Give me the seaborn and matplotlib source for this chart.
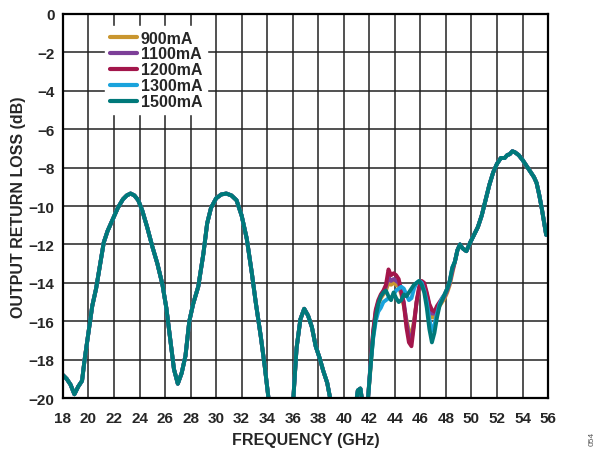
import numpy as np
import pandas as pd
import matplotlib
matplotlib.use("Agg")
import matplotlib.pyplot as plt
import seaborn as sns

# 18 - 41.7 GHz: all currents overlap
freq_low = [18.0, 18.3, 18.6, 18.9, 19.2, 19.5, 19.7, 20.0, 20.3, 20.6, 20.9, 21.2, 21.5,
            21.9, 22.3, 22.7, 23.0, 23.3, 23.6, 23.9, 24.2, 24.6, 25.0, 25.4, 25.8, 26.1,
            26.4, 26.7, 27.0, 27.3, 27.6, 27.9, 28.2, 28.6, 29.0, 29.3, 29.6, 30.0, 30.4,
            30.8, 31.2, 31.6, 32.0, 32.4, 32.8, 33.1, 33.3, 33.5, 33.8, 34.1, 34.5, 35.0,
            35.6, 36.05, 36.3, 36.6, 36.9, 37.2, 37.5, 37.8, 38.1, 38.4, 38.7, 38.9, 39.2,
            40.0, 40.8, 41.1, 41.3, 41.45, 41.7]
rl_low = [-18.8, -19.0, -19.3, -19.8, -19.4, -19.1, -18.0, -16.6, -15.2, -14.3, -13.1, -11.9,
          -11.3, -10.7, -10.1, -9.65, -9.45, -9.35, -9.45, -9.7, -10.2, -11.1, -12.1, -13.0,
          -14.1, -15.3, -16.9, -18.5, -19.25, -18.7, -17.8, -16.0, -15.1, -14.2, -12.5,
          -10.9, -10.1, -9.6, -9.4, -9.35, -9.45, -9.7, -10.5, -11.7, -13.5, -15.0, -15.9,
          -16.8, -18.3, -20.0, -22.0, -23.0, -22.0, -20.0, -17.4, -15.9, -15.35, -15.7,
          -16.3, -17.3, -17.9, -18.6, -19.2, -19.9, -21.5, -23.0, -21.0, -19.6, -19.5,
          -20.2, -21.0]

# 41.9 - 48.5 GHz: the currents split apart
freq_mid = [41.9, 42.1, 42.3, 42.5, 42.7, 42.9, 43.1, 43.3, 43.5, 43.7, 43.9, 44.1, 44.3,
            44.5, 44.7, 44.9, 45.1, 45.3, 45.5, 45.7, 45.9, 46.1, 46.3, 46.5, 46.7, 46.9,
            47.1, 47.3, 47.5, 47.7, 47.9, 48.1, 48.3, 48.5]
rl_mid_900 = [-20.0, -18.4, -16.7, -15.6, -15.1, -14.8, -14.6, -14.4, -14.0, -14.1,
              -14.0, -14.1, -14.2, -14.6, -15.2, -15.9, -16.5, -16.7, -16.0, -15.0,
              -14.4, -14.1, -14.2, -14.7, -15.3, -15.8, -15.8, -15.5, -15.2, -15.0,
              -14.8, -14.5, -14.1, -13.5]
rl_mid_1100 = [-20.0, -18.2, -16.6, -15.5, -15.0, -14.7, -14.5, -14.2, -13.7, -13.9,
               -13.8, -13.9, -14.0, -14.5, -15.0, -16.0, -16.8, -17.0, -16.1, -15.0,
               -14.3, -14.0, -14.1, -14.6, -15.2, -15.6, -15.6, -15.3, -15.1, -14.9,
               -14.7, -14.4, -14.0, -13.4]
rl_mid_1200 = [-20.0, -18.2, -16.5, -15.4, -14.9, -14.6, -14.4, -14.1, -13.3, -13.6,
               -13.5, -13.6, -13.8, -14.4, -15.1, -16.3, -17.1, -17.3, -16.2, -15.0,
               -14.2, -13.9, -14.0, -14.5, -15.1, -15.4, -15.5, -15.2, -15.0, -14.8,
               -14.6, -14.3, -13.9, -13.3]
rl_mid_1300 = [-20.0, -18.3, -16.9, -16.0, -15.5, -15.3, -15.0, -14.9, -14.8, -14.8,
               -14.6, -14.4, -14.3, -14.2, -14.3, -14.6, -14.9, -14.8, -14.3, -14.0,
               -13.9, -14.0, -14.4, -15.0, -15.9, -16.5, -16.2, -15.6, -15.1, -14.8,
               -14.6, -14.3, -13.9, -13.2]
rl_mid_1500 = [-20.0, -18.3, -16.8, -15.8, -15.1, -14.7, -14.5, -14.4, -14.7, -14.9,
               -14.5, -14.8, -15.0, -14.9, -14.6, -14.7, -14.5, -14.3, -14.1, -14.0,
               -13.9, -14.1, -14.5, -15.3, -16.4, -17.1, -16.6, -15.8, -15.2, -14.9,
               -14.6, -14.3, -13.9, -13.2]

# 48.7 - 56 GHz: overlap again
freq_high = [48.7, 48.9, 49.1, 49.3, 49.6, 49.9, 50.2, 50.5, 50.8, 51.1, 51.4, 51.7, 52.0,
             52.3, 52.6, 52.8, 53.0, 53.2, 53.4, 53.7, 54.0, 54.3, 54.6, 54.9, 55.1, 55.3,
             55.5, 55.7, 55.85, 56.0]
rl_high = [-12.9, -12.3, -12.0, -12.2, -12.35, -11.9, -11.5, -11.1, -10.5, -9.7, -8.9,
           -8.25, -7.8, -7.5, -7.5, -7.35, -7.3, -7.15, -7.2, -7.35, -7.6, -7.9, -8.2,
           -8.5, -8.8, -9.4, -10.1, -10.9, -11.5, -11.4]

currents = ["900mA", "1100mA", "1200mA", "1300mA", "1500mA"]
mid_values = [rl_mid_900, rl_mid_1100, rl_mid_1200, rl_mid_1300, rl_mid_1500]
colors = ["#C9962F", "#7D3F98", "#A3164B", "#1AA3DC", "#00797A"]

freq_all = freq_low + freq_mid + freq_high
frames = []
for name, mid in zip(currents, mid_values):
    frames.append(pd.DataFrame({"freq": freq_all,
                                "rl": rl_low + mid + rl_high,
                                "current": name}))
df = pd.concat(frames, ignore_index=True)

sns.set_style("white")
plt.rcParams["font.family"] = ["Liberation Sans", "DejaVu Sans"]
plt.rcParams["font.weight"] = "bold"

fig, ax = plt.subplots(figsize=(5.99, 4.52), dpi=100)
fig.subplots_adjust(left=0.105, right=0.915, top=0.967, bottom=0.117)

sns.lineplot(data=df, x="freq", y="rl", hue="current", hue_order=currents,
             palette=colors, linewidth=2.8, sort=False, estimator=None, ax=ax)

ax.set_xlim(18, 56)
ax.set_ylim(-20, 0)
ax.set_xticks(np.arange(18, 57, 2))
ax.set_yticks(np.arange(-20, 1, 2))
ax.grid(True, color="#222222", linewidth=1.1)
ax.set_axisbelow(True)
for s in ax.spines.values():
    s.set_color("black")
    s.set_linewidth(1.6)
ax.tick_params(length=0, labelsize=11)
ax.tick_params(axis="x", pad=9)
ax.tick_params(axis="y", pad=6)
for lab in ax.get_xticklabels() + ax.get_yticklabels():
    lab.set_fontweight("bold")

ax.set_xlabel("FREQUENCY (GHz)", fontsize=11.5, fontweight="bold", labelpad=5)
ax.set_ylabel("OUTPUT RETURN LOSS (dB)", fontsize=11.5, fontweight="bold", labelpad=2)

leg = ax.legend(loc="upper left", bbox_to_anchor=(0.07, 0.99), frameon=True,
                fancybox=False, framealpha=1, handlelength=1.7, handletextpad=0.25,
                labelspacing=0.06, borderpad=0.3,
                prop={"weight": "bold", "size": 11.5})
leg.get_frame().set_edgecolor("white")
leg.get_frame().set_facecolor("white")
leg.set_title(None)
for line in leg.get_lines():
    line.set_linewidth(3.0)

fig.text(0.988, 0.03, "054", rotation=90, fontsize=6, color="#555555",
         ha="center", va="center", fontweight="normal")

fig.savefig("out.png", dpi=100, facecolor="white")
